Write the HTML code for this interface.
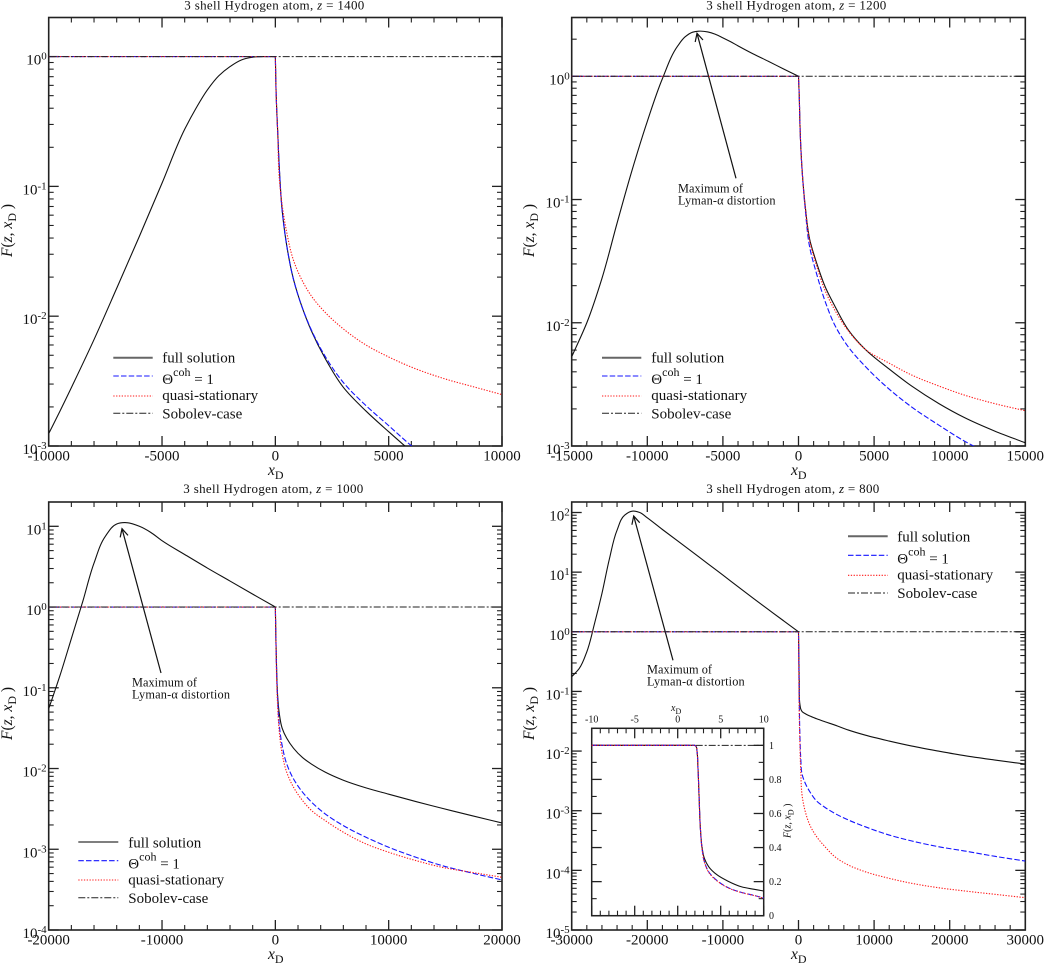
<!DOCTYPE html>
<html lang="en">
<head>
<meta charset="utf-8">
<title>3 shell Hydrogen atom spectral distortion</title>
<style>
html,body{margin:0;padding:0;background:#fff}
svg{display:block}
text{font-family:"Liberation Serif",serif;fill:#111}
.tick{font-size:15px}
.title{font-size:13px}
.legend{font-size:15px}
.note{font-size:12.3px}
.axis{font-size:15.5px}
.inset{font-size:10px}
.full{fill:none;stroke:#111;stroke-width:1.1;stroke-linejoin:round}
.coh{fill:none;stroke:#1414ff;stroke-width:1.1;stroke-dasharray:5.5 2.2}
.quasi{fill:none;stroke:#ff1a1a;stroke-width:1.1;stroke-dasharray:1.3 1.5}
.sob{fill:none;stroke:#222;stroke-width:1;stroke-dasharray:7 2 2 2}
.lg-full{stroke:#666;stroke-width:2;fill:none}
.arrow{stroke:#111;stroke-width:1.2;fill:none}
</style>
</head>
<body>
<svg id="figure" xmlns="http://www.w3.org/2000/svg" width="1044" height="965" viewBox="0 0 1044 965">
<rect x="0" y="0" width="1044" height="965" fill="#fff"/>

<g id="panel-1400">
  <text class="title" x="184.3" y="9.3" textLength="180" lengthAdjust="spacing">3 shell  Hydrogen atom, <tspan font-style="italic">z</tspan> = 1400</text>
  <text class="axis" x="268" y="475"><tspan font-style="italic">x</tspan><tspan dy="4" font-size="12">D</tspan></text>
  <text class="axis" transform="translate(12,257) rotate(-90)"><tspan font-style="italic">F</tspan>(<tspan font-style="italic">z</tspan>, <tspan font-style="italic">x</tspan><tspan dy="4" font-size="12">D</tspan><tspan dy="-4"> )</tspan></text>
  <g>
    <line class="lg-full" x1="113.3" x2="152.7" y1="357.7" y2="357.7"/>
    <text class="legend" x="162.3" y="362.7">full solution</text>
    <line class="coh" x1="113.3" x2="152.7" y1="376" y2="376"/>
    <text class="legend" x="162.3" y="384">Θ<tspan dy="-8" font-size="12">coh</tspan><tspan dy="8"> = 1</tspan></text>
    <line class="quasi" x1="113.3" x2="152.7" y1="396" y2="396"/>
    <text class="legend" x="162.3" y="400">quasi-stationary</text>
    <line class="sob" x1="113.3" x2="152.7" y1="413.3" y2="413.3"/>
    <text class="legend" x="162.3" y="418.7">Sobolev-case</text>
  </g>
</g>

<g id="panel-1200">
  <text class="title" x="706.3" y="9.3" textLength="180" lengthAdjust="spacing">3 shell  Hydrogen atom, <tspan font-style="italic">z</tspan> = 1200</text>
  <text class="axis" x="791" y="475"><tspan font-style="italic">x</tspan><tspan dy="4" font-size="12">D</tspan></text>
  <text class="axis" transform="translate(534,257) rotate(-90)"><tspan font-style="italic">F</tspan>(<tspan font-style="italic">z</tspan>, <tspan font-style="italic">x</tspan><tspan dy="4" font-size="12">D</tspan><tspan dy="-4"> )</tspan></text>
  <g>
    <line class="lg-full" x1="602" x2="641.3" y1="357.7" y2="357.7"/>
    <text class="legend" x="651.3" y="362.7">full solution</text>
    <line class="coh" x1="602" x2="641.3" y1="376" y2="376"/>
    <text class="legend" x="651.3" y="384">Θ<tspan dy="-8" font-size="12">coh</tspan><tspan dy="8"> = 1</tspan></text>
    <line class="quasi" x1="602" x2="641.3" y1="396" y2="396"/>
    <text class="legend" x="651.3" y="400">quasi-stationary</text>
    <line class="sob" x1="602" x2="641.3" y1="413.3" y2="413.3"/>
    <text class="legend" x="651.3" y="418.7">Sobolev-case</text>
  </g>
  <g>
    <line class="arrow" x1="736" y1="178.3" x2="697" y2="33.3"/>
    <polyline class="arrow" points="703,40 697,33.3 695.2,42"/>
    <text class="note" x="678" y="192.7" textLength="65" lengthAdjust="spacing">Maximum of</text>
    <text class="note" x="678" y="204.7" textLength="97.5" lengthAdjust="spacing">Lyman-α distortion</text>
  </g>
</g>

<g id="panel-1000">
  <text class="title" x="183.3" y="493" textLength="180" lengthAdjust="spacing">3 shell  Hydrogen atom, <tspan font-style="italic">z</tspan> = 1000</text>
  <text class="axis" x="268" y="959"><tspan font-style="italic">x</tspan><tspan dy="4" font-size="12">D</tspan></text>
  <text class="axis" transform="translate(12,740) rotate(-90)"><tspan font-style="italic">F</tspan>(<tspan font-style="italic">z</tspan>, <tspan font-style="italic">x</tspan><tspan dy="4" font-size="12">D</tspan><tspan dy="-4"> )</tspan></text>
  <g>
    <line class="lg-full" style="stroke:#333;stroke-width:1.2" x1="78.3" x2="118.3" y1="842" y2="842"/>
    <text class="legend" x="128.3" y="847.5">full solution</text>
    <line class="coh" x1="78.3" x2="118.3" y1="860.7" y2="860.7"/>
    <text class="legend" x="128.3" y="868.5">Θ<tspan dy="-8" font-size="12">coh</tspan><tspan dy="8"> = 1</tspan></text>
    <line class="quasi" x1="78.3" x2="118.3" y1="880" y2="880"/>
    <text class="legend" x="128.3" y="884.5">quasi-stationary</text>
    <line class="sob" x1="78.3" x2="118.3" y1="897.7" y2="897.7"/>
    <text class="legend" x="128.3" y="903">Sobolev-case</text>
  </g>
  <g>
    <line class="arrow" x1="161" y1="673" x2="122" y2="528.7"/>
    <polyline class="arrow" points="128,535.4 122,528.7 120.2,537.4"/>
    <text class="note" x="132" y="686.3" textLength="65" lengthAdjust="spacing">Maximum of</text>
    <text class="note" x="132" y="698.3" textLength="98" lengthAdjust="spacing">Lyman-α distortion</text>
  </g>
</g>

<g id="panel-800">
  <text class="title" x="706.3" y="493" textLength="173" lengthAdjust="spacing">3 shell  Hydrogen atom, <tspan font-style="italic">z</tspan> = 800</text>
  <text class="axis" x="791" y="959"><tspan font-style="italic">x</tspan><tspan dy="4" font-size="12">D</tspan></text>
  <text class="axis" transform="translate(534,740) rotate(-90)"><tspan font-style="italic">F</tspan>(<tspan font-style="italic">z</tspan>, <tspan font-style="italic">x</tspan><tspan dy="4" font-size="12">D</tspan><tspan dy="-4"> )</tspan></text>
  <g>
    <line class="lg-full" x1="848" x2="887.7" y1="536.3" y2="536.3"/>
    <text class="legend" x="897.3" y="541.5">full solution</text>
    <line class="coh" x1="848" x2="887.7" y1="555.3" y2="555.3"/>
    <text class="legend" x="897.3" y="563.5">Θ<tspan dy="-8" font-size="12">coh</tspan><tspan dy="8"> = 1</tspan></text>
    <line class="quasi" x1="848" x2="887.7" y1="575.3" y2="575.3"/>
    <text class="legend" x="897.3" y="579.5">quasi-stationary</text>
    <line class="sob" x1="848" x2="887.7" y1="593" y2="593"/>
    <text class="legend" x="897.3" y="598">Sobolev-case</text>
  </g>
  <g>
    <line class="arrow" x1="673" y1="660.3" x2="633.7" y2="516"/>
    <polyline class="arrow" points="639.7,522.7 633.7,516 631.9,524.7"/>
    <text class="note" x="647" y="673.7" textLength="65" lengthAdjust="spacing">Maximum of</text>
    <text class="note" x="647" y="685.7" textLength="97.7" lengthAdjust="spacing">Lyman-α distortion</text>
  </g>
</g>

<g id="inset-800">
  <rect x="591.7" y="728.3" width="172" height="187.4" fill="#fff"/>
  <text class="inset" x="671" y="711" font-size="10"><tspan font-style="italic">x</tspan><tspan dy="3" font-size="8">D</tspan></text>
  <text class="inset" transform="translate(790.5,838) rotate(-90)"><tspan font-style="italic">F</tspan>(<tspan font-style="italic">z</tspan>, <tspan font-style="italic">x</tspan><tspan dy="3" font-size="8">D</tspan><tspan dy="-3"> )</tspan></text>
</g>
</svg>

<script>
// ---------- z = 1400 ----------
const z1400XRange = [-10000, 10000];
const z1400LogRange = [-3, 0.301];
const z1400XTicks = [-10000, -5000, 0, 5000, 10000];
const z1400XMinor = 1000;
const z1400Decades = [0, -1, -2, -3];
const z1400LeftX = [-10000, -9500, -9000, -8000, -7000, -6000, -5000, -4000, -3500, -3000, -2500, -2000, -1500, -1000, -500, 0];
const z1400FullLeft = [-2.905, -2.73, -2.55, -2.18, -1.785, -1.385, -0.975, -0.56, -0.398, -0.257, -0.149, -0.077, -0.026, -0.005, 0, 0];
const z1400RightX = [0, 30, 60, 100, 180, 300, 500, 800, 1200, 1600, 2200, 3000, 4000, 5000, 6000, 7500, 8700, 10000];
const z1400FullRight = [0, -0.256, -0.411, -0.565, -0.874, -1.183, -1.453, -1.716, -1.94, -2.117, -2.326, -2.548, -2.731, -2.89, -3.044];
const z1400CohRight = [0, -0.256, -0.411, -0.565, -0.874, -1.183, -1.453, -1.716, -1.94, -2.11, -2.31, -2.511, -2.689, -2.843, -2.998, -3.2];
const z1400QuasiRight = [0, -0.256, -0.411, -0.565, -0.951, -1.144, -1.353, -1.569, -1.731, -1.847, -1.971, -2.098, -2.222, -2.314, -2.392, -2.484, -2.542, -2.604];

// ---------- z = 1200 ----------
const z1200XRange = [-15000, 15000];
const z1200LogRange = [-3, 0.477];
const z1200XTicks = [-15000, -10000, -5000, 0, 5000, 10000, 15000];
const z1200XMinor = 1000;
const z1200Decades = [0, -1, -2, -3];
const z1200LeftX = [-15000, -14000, -13000, -12000, -11000, -10000, -9000, -8000, -7500, -7000, -6600, -6000, -5500, -5000, -4500, -4000, -3000, -2000, -1000, 0];
const z1200FullLeft = [-2.276, -2.0, -1.64, -1.192, -0.759, -0.366, -0.019, 0.244, 0.32, 0.358, 0.366, 0.36, 0.341, 0.312, 0.281, 0.247, 0.182, 0.122, 0.06, 0];
const z1200RightX = [0, 50, 100, 150, 250, 450, 750, 1200, 1800, 2400, 3300, 4400, 6000, 7500, 9300, 11000, 13000, 15000];
const z1200FullRight = [0, -0.163, -0.407, -0.569, -0.783, -1.059, -1.328, -1.515, -1.718, -1.864, -2.059, -2.214, -2.376, -2.515, -2.657, -2.771, -2.88, -2.974];
const z1200CohRight = [0, -0.163, -0.407, -0.569, -0.783, -1.084, -1.393, -1.604, -1.84, -2.019, -2.197, -2.352, -2.539, -2.685, -2.832, -2.962, -3.084, -3.2];
const z1200QuasiRight = [0, -0.163, -0.407, -0.569, -0.783, -1.067, -1.344, -1.539, -1.751, -1.897, -2.067, -2.214, -2.328, -2.425, -2.514, -2.588, -2.657, -2.714];

// ---------- z = 1000 ----------
const z1000XRange = [-20000, 20000];
const z1000LogRange = [-4, 1.301];
const z1000XTicks = [-20000, -10000, 0, 10000, 20000];
const z1000XMinor = 2000;
const z1000Decades = [1, 0, -1, -2, -3, -4];
const z1000LeftX = [-20000, -19000, -18000, -17000, -16000, -15000, -14000, -13300, -12000, -11000, -10000, -8000, -6000, -4000, -2000, 0];
const z1000FullLeft = [-1.261, -0.846, -0.39, 0.066, 0.544, 0.876, 1.029, 1.046, 1.0, 0.925, 0.822, 0.651, 0.483, 0.322, 0.16, 0];
const z1000RightX = [0, 60, 120, 200, 350, 600, 1000, 1600, 2400, 3200, 4400, 6000, 8000, 10000, 12400, 14700, 17300, 20000];
const z1000FullRight = [0, -0.475, -0.806, -1.095, -1.322, -1.5, -1.624, -1.748, -1.864, -1.946, -2.045, -2.145, -2.24, -2.318, -2.409, -2.492, -2.583, -2.674];
const z1000CohRight = [0, -0.475, -0.847, -1.136, -1.467, -1.715, -1.942, -2.128, -2.293, -2.417, -2.562, -2.707, -2.851, -2.975, -3.099, -3.202, -3.293, -3.38];
const z1000QuasiRight = [0, -0.475, -0.93, -1.219, -1.55, -1.818, -2.045, -2.231, -2.397, -2.521, -2.645, -2.789, -2.934, -3.037, -3.14, -3.223, -3.285, -3.347];

// ---------- z = 800 ----------
const z800XRange = [-30000, 30000];
const z800LogRange = [-5, 2.176];
const z800XTicks = [-30000, -20000, -10000, 0, 10000, 20000, 30000];
const z800XMinor = 2000;
const z800Decades = [2, 1, 0, -1, -2, -3, -4, -5];
const z800LeftX = [-30000, -29000, -28000, -27000, -26000, -25000, -24000, -23000, -22000, -21000, -20000, -18000, -16000, -14000, -12000, -10000, -8000, -6000, -4000, -2000, 0];
const z800FullLeft = [-0.754, -0.615, -0.335, 0.128, 0.642, 1.229, 1.704, 1.955, 2.022, 2.0, 1.911, 1.715, 1.525, 1.335, 1.142, 0.95, 0.757, 0.564, 0.374, 0.187, 0];
const z800RightX = [0, 50, 100, 200, 300, 500, 900, 1500, 2400, 3500, 4800, 6600, 8800, 12000, 15000, 18500, 22000, 26000, 30000];
const z800FullRight = [0, -0.391, -0.838, -1.229, -1.296, -1.341, -1.374, -1.413, -1.458, -1.508, -1.564, -1.648, -1.732, -1.832, -1.916, -2.0, -2.078, -2.151, -2.218];
const z800CohRight = [0, -0.615, -1.173, -1.788, -2.123, -2.402, -2.542, -2.682, -2.838, -2.944, -3.045, -3.156, -3.268, -3.408, -3.508, -3.603, -3.676, -3.765, -3.844];
const z800QuasiRight = [0, -0.838, -1.397, -1.955, -2.346, -2.765, -3.017, -3.24, -3.436, -3.603, -3.771, -3.911, -4.022, -4.134, -4.218, -4.291, -4.346, -4.402, -4.458];

// ---------- inset (z = 800, linear axes); the repeated x = 2.0 marks the corner ----------
const insetXRange = [-10, 10];
const insetYRange = [0, 1.1];
const insetXTicks = [-10, -5, 0, 5, 10];
const insetYTicks = [0, 0.2, 0.4, 0.6, 0.8, 1];
const insetX = [-10, 2.0, 2.0, 2.15, 2.25, 2.35, 2.5, 2.65, 2.85, 3.1, 3.6, 4.6, 5.8, 7.4, 8.9, 10];
const insetFull = [1, 1, 1, 0.992, 0.963, 0.875, 0.68, 0.503, 0.395, 0.337, 0.288, 0.239, 0.204, 0.17, 0.155, 0.145];
const insetCoh = [1, 1, 1, 0.992, 0.963, 0.875, 0.68, 0.503, 0.386, 0.317, 0.258, 0.205, 0.166, 0.137, 0.119, 0.104];
const insetQuasi = [1, 1, 1, 0.992, 0.963, 0.875, 0.68, 0.503, 0.386, 0.315, 0.255, 0.203, 0.165, 0.136, 0.118, 0.103];

const NS = 'http://www.w3.org/2000/svg';
function make(tag, attrs, parent) {
  const e = document.createElementNS(NS, tag);
  for (const k in attrs) e.setAttribute(k, attrs[k]);
  parent.appendChild(e);
  return e;
}
// Smooth path through the data points; a repeated point marks a sharp corner.
function pathOf(xs, ys, ax, ay) {
  const n = Math.min(xs.length, ys.length);
  const pts = [];
  for (let i = 0; i < n; i++) pts.push([ax(xs[i]), ay(ys[i])]);
  const same = (a, b) => Math.abs(a[0] - b[0]) < 1e-6 && Math.abs(a[1] - b[1]) < 1e-6;
  function tangent(i) {
    const p = pts[i];
    const prev = i > 0 && !same(pts[i - 1], p) ? pts[i - 1] : null;
    const next = i < n - 1 && !same(pts[i + 1], p) ? pts[i + 1] : null;
    let tx = 0, ty = 0;
    if (prev && next) {
      const l1 = Math.hypot(p[0] - prev[0], p[1] - prev[1]);
      const l2 = Math.hypot(next[0] - p[0], next[1] - p[1]);
      tx = (p[0] - prev[0]) / l1 * l2 + (next[0] - p[0]) / l2 * l1;
      ty = (p[1] - prev[1]) / l1 * l2 + (next[1] - p[1]) / l2 * l1;
    } else if (next) {
      tx = next[0] - p[0]; ty = next[1] - p[1];
    } else if (prev) {
      tx = p[0] - prev[0]; ty = p[1] - prev[1];
    }
    const m = Math.hypot(tx, ty) || 1;
    return [tx / m, ty / m];
  }
  let d = 'M' + pts[0][0].toFixed(2) + ' ' + pts[0][1].toFixed(2);
  for (let i = 0; i < n - 1; i++) {
    const a = pts[i], b = pts[i + 1];
    if (same(a, b)) continue;
    const l = Math.hypot(b[0] - a[0], b[1] - a[1]) / 3;
    const ta = tangent(i), tb = tangent(i + 1);
    d += 'C' + (a[0] + ta[0] * l).toFixed(2) + ' ' + (a[1] + ta[1] * l).toFixed(2) + ' ' +
         (b[0] - tb[0] * l).toFixed(2) + ' ' + (b[1] - tb[1] * l).toFixed(2) + ' ' +
         b[0].toFixed(2) + ' ' + b[1].toFixed(2);
  }
  return d;
}
const TICK_MAJOR = 10, TICK_MINOR = 5, AXIS = '#222';

function tickLine(parent, x1, y1, x2, y2, major, name) {
  const t = make('line', {x1: x1, y1: y1, x2: x2, y2: y2, stroke: AXIS, 'stroke-width': major ? 1.3 : 1.1}, parent);
  
  
}

function drawMain(id, box, xRange, logRange, xTicks, xMinor, decades, leftX, fullLeft, rightX, fullRight, cohRight, quasiRight, labelY) {
  const root = document.getElementById(id);
  const ax = v => box.x0 + (v - xRange[0]) / (xRange[1] - xRange[0]) * (box.x1 - box.x0);
  const ay = v => box.y1 - (v - logRange[0]) / (logRange[1] - logRange[0]) * (box.y1 - box.y0);
  const clipId = id + '-clip';
  const defs = make('clipPath', {id: clipId}, root);
  make('rect', {x: box.x0, y: box.y0, width: box.x1 - box.x0, height: box.y1 - box.y0}, defs);

  const frame = make('rect', {x: box.x0, y: box.y0, width: box.x1 - box.x0, height: box.y1 - box.y0, fill: 'none', stroke: AXIS, 'stroke-width': 1.6}, root);
  
  

  // x ticks
  for (let v = xRange[0]; v <= xRange[1]; v += xMinor) {
    const major = xTicks.indexOf(v) >= 0;
    const len = major ? TICK_MAJOR : TICK_MINOR;
    tickLine(root, ax(v), box.y1, ax(v), box.y1 - len, major, 'x-tick-bottom');
    tickLine(root, ax(v), box.y0, ax(v), box.y0 + len, major, 'x-tick-top');
  }
  xTicks.forEach(function (v) {
    const lab = make('text', {x: ax(v), y: labelY, 'text-anchor': 'middle', class: 'tick'}, root);
    
    
    lab.textContent = String(v);
  });

  // y ticks
  for (let d = Math.floor(logRange[0]); d <= Math.ceil(logRange[1]); d++) {
    for (let m = 1; m <= 9; m++) {
      const lv = d + Math.log10(m);
      if (lv < logRange[0] - 1e-6 || lv > logRange[1] + 1e-6) continue;
      const len = m === 1 ? TICK_MAJOR : TICK_MINOR;
      tickLine(root, box.x0, ay(lv), box.x0 + len, ay(lv), m === 1, 'y-tick-left');
      tickLine(root, box.x1, ay(lv), box.x1 - len, ay(lv), m === 1, 'y-tick-right');
    }
  }
  decades.forEach(function (d) {
    const lab = make('text', {x: box.x0 - 2, y: ay(d) + 8, 'text-anchor': 'end', class: 'tick'}, root);
    
    
    const base = make('tspan', {}, lab);
    base.textContent = '10';
    const sup = make('tspan', {dy: -5, 'font-size': 11}, lab);
    sup.textContent = String(d);
  });

  // series
  const layer = make('g', {'clip-path': 'url(#' + clipId + ')'}, root);
  
  

  const flatX = [xRange[0], 0];
  const flatY = [0, 0];

  const full = make('path', {class: 'full', d: pathOf(leftX.concat(rightX), fullLeft.concat(fullRight), ax, ay)}, layer);
  
  

  const coh = make('path', {class: 'coh', d: pathOf(flatX.concat(rightX), flatY.concat(cohRight), ax, ay)}, layer);
  
  

  const quasi = make('path', {class: 'quasi', d: pathOf(flatX.concat(rightX), flatY.concat(quasiRight), ax, ay)}, layer);
  
  

  const sob = make('path', {class: 'sob', d: pathOf(xRange, flatY, ax, ay)}, layer);
  
  
}

drawMain('panel-1400', {x0: 48.7, x1: 502, y0: 17.5, y1: 446}, z1400XRange, z1400LogRange, z1400XTicks, z1400XMinor, z1400Decades, z1400LeftX, z1400FullLeft, z1400RightX, z1400FullRight, z1400CohRight, z1400QuasiRight, 460.5);
drawMain('panel-1200', {x0: 571.7, x1: 1025.3, y0: 17.5, y1: 446}, z1200XRange, z1200LogRange, z1200XTicks, z1200XMinor, z1200Decades, z1200LeftX, z1200FullLeft, z1200RightX, z1200FullRight, z1200CohRight, z1200QuasiRight, 460.5);
drawMain('panel-1000', {x0: 48.7, x1: 502, y0: 502, y1: 930}, z1000XRange, z1000LogRange, z1000XTicks, z1000XMinor, z1000Decades, z1000LeftX, z1000FullLeft, z1000RightX, z1000FullRight, z1000CohRight, z1000QuasiRight, 944.5);
drawMain('panel-800', {x0: 571.7, x1: 1025.3, y0: 502, y1: 930}, z800XRange, z800LogRange, z800XTicks, z800XMinor, z800Decades, z800LeftX, z800FullLeft, z800RightX, z800FullRight, z800CohRight, z800QuasiRight, 944.5);

// move the inset above the z=800 panel marks
(function () {
  const svg = document.getElementById('figure');
  const inset = document.getElementById('inset-800');
  svg.appendChild(inset);
  const box = {x0: 591.7, x1: 763.7, y0: 728.3, y1: 915.7};
  const ax = v => box.x0 + (v - insetXRange[0]) / (insetXRange[1] - insetXRange[0]) * (box.x1 - box.x0);
  const ay = v => box.y1 - (v - insetYRange[0]) / (insetYRange[1] - insetYRange[0]) * (box.y1 - box.y0);

  const frame = make('rect', {x: box.x0, y: box.y0, width: box.x1 - box.x0, height: box.y1 - box.y0, fill: 'none', stroke: AXIS, 'stroke-width': 1.5}, inset);
  
  

  for (let v = insetXRange[0]; v <= insetXRange[1]; v += 1) {
    const major = insetXTicks.indexOf(v) >= 0;
    const len = major ? TICK_MAJOR : TICK_MINOR;
    tickLine(inset, ax(v), box.y1, ax(v), box.y1 - len, major, 'inset-x-tick-bottom');
    tickLine(inset, ax(v), box.y0, ax(v), box.y0 + len, major, 'inset-x-tick-top');
  }
  insetXTicks.forEach(function (v) {
    const lab = make('text', {x: ax(v), y: 722.5, 'text-anchor': 'middle', class: 'inset'}, inset);
    
    
    lab.textContent = String(v);
  });
  for (let i = 0; i <= 11; i++) {
    const v = i / 10;
    const major = i % 2 === 0;
    const len = major ? TICK_MAJOR : TICK_MINOR;
    tickLine(inset, box.x0, ay(v), box.x0 + len, ay(v), major, 'inset-y-tick-left');
    tickLine(inset, box.x1, ay(v), box.x1 - len, ay(v), major, 'inset-y-tick-right');
  }
  insetYTicks.forEach(function (v) {
    const lab = make('text', {x: 769, y: ay(v) + 3.5, class: 'inset'}, inset);
    
    
    lab.textContent = String(v);
  });

  const flat = [1, 1];
  const sob = make('path', {class: 'sob', d: pathOf(insetXRange, flat, ax, ay)}, inset);
  
  
  const full = make('path', {class: 'full', d: pathOf(insetX, insetFull, ax, ay)}, inset);
  
  
  const coh = make('path', {class: 'coh', d: pathOf(insetX, insetCoh, ax, ay)}, inset);
  
  
  const quasi = make('path', {class: 'quasi', d: pathOf(insetX, insetQuasi, ax, ay)}, inset);
  
  
})();
</script>
</body>
</html>
